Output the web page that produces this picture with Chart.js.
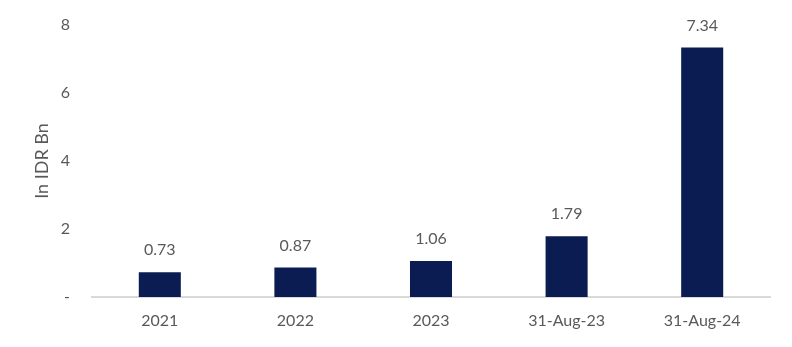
<!DOCTYPE html>
<html>
<head>
<meta charset="utf-8">
<script src="https://cdn.jsdelivr.net/npm/chart.js@4/dist/chart.umd.min.js"></script>
<style>
  html, body { margin: 0; padding: 0; background: #fff; }
</style>
</head>
<body>
<canvas id="idrChart" width="792" height="347"></canvas>
<script>
const periods = ['2021', '2022', '2023', '31-Aug-23', '31-Aug-24'];
const amounts = [0.73, 0.87, 1.06, 1.79, 7.34];
const yTicks = [0, 2, 4, 6, 8];

const textColor = '#595959';
const fontFamily = 'Lato, "Open Sans", sans-serif';

// writes each value above its bar
const valueLabels = {
  id: 'valueLabels',
  afterDatasetsDraw(chart) {
    const ctx = chart.ctx;
    const meta = chart.getDatasetMeta(0);
    ctx.save();
    ctx.fillStyle = textColor;
    ctx.font = '16px ' + fontFamily;
    ctx.textAlign = 'center';
    ctx.textBaseline = 'middle';
    meta.data.forEach((bar, i) => {
      ctx.fillText(amounts[i].toFixed(2), bar.x, bar.y - 22);
    });
    ctx.restore();
  }
};

new Chart(document.getElementById('idrChart'), {
  type: 'bar',
  data: {
    labels: periods,
    datasets: [{
      data: amounts,
      backgroundColor: '#0a1c52',
      barPercentage: 0.62,
      categoryPercentage: 0.5
    }]
  },
  options: {
    responsive: false,
    animation: false,
    layout: { padding: { top: 25, right: 22, left: 0, bottom: 0 } },
    plugins: {
      legend: { display: false },
      tooltip: { enabled: false }
    },
    scales: {
      x: {
        grid: { display: false, drawTicks: false },
        border: { color: '#d9d9d9', width: 2 },
        ticks: { color: textColor, font: { family: fontFamily, size: 16 }, padding: 14 },
        afterFit(scale) {
          scale.height = 50;
          scale.paddingLeft = 0;
          scale.paddingRight = 0;
        }
      },
      y: {
        min: 0,
        max: 8,
        afterBuildTicks(scale) { scale.ticks = yTicks.map(v => ({ value: v })); },
        grid: { display: false, drawTicks: false },
        border: { display: false },
        ticks: {
          color: textColor,
          font: { family: fontFamily, size: 16 },
          padding: 22,
          callback: v => (v === 0 ? '-' : v)
        },
        title: {
          display: true,
          text: 'In IDR Bn',
          color: textColor,
          font: { family: fontFamily, size: 18 },
          padding: { top: 31, bottom: 0 }
        },
        afterFit(scale) {
          scale.width = 92;
          scale.paddingTop = 0;
          scale.paddingBottom = 0;
        }
      }
    }
  },
  plugins: [valueLabels]
});
</script>
</body>
</html>
